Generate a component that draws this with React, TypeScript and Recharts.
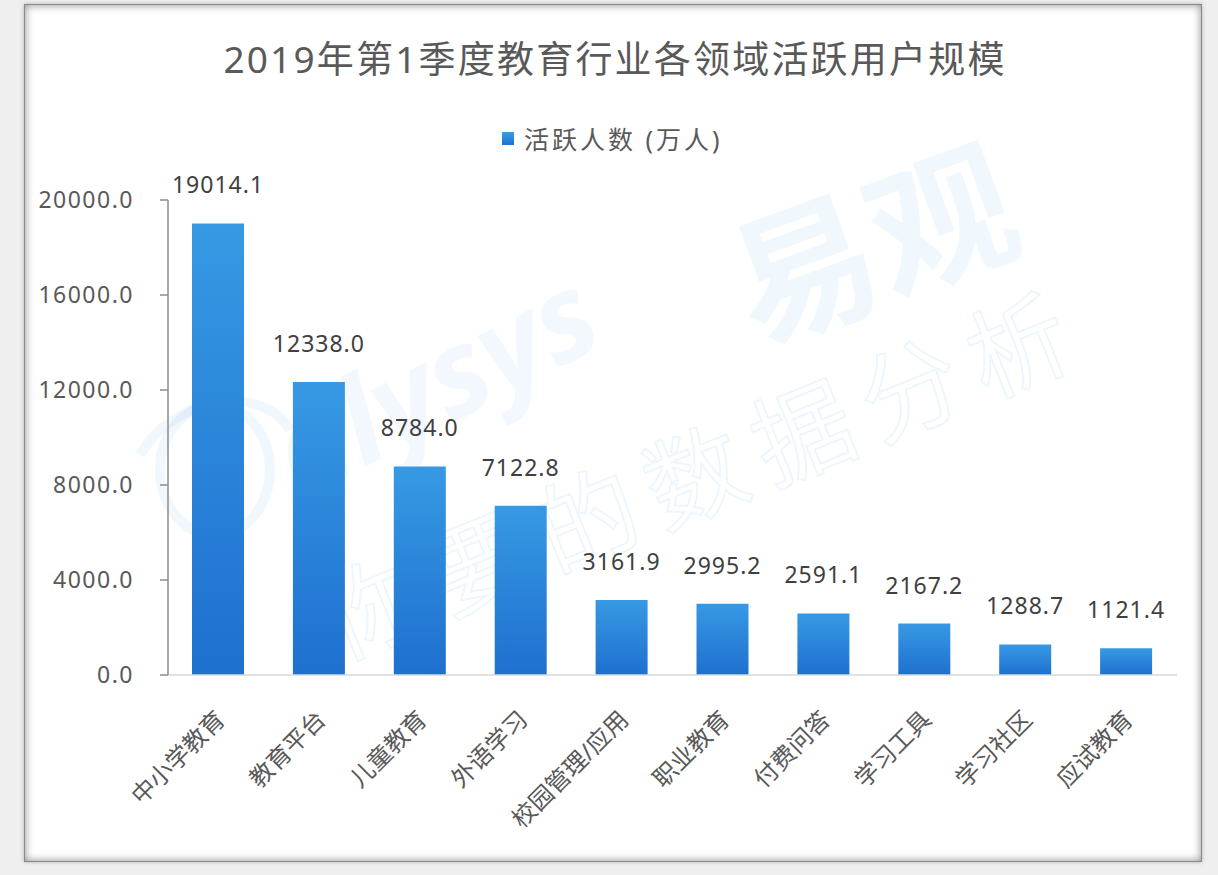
import React from 'react';
import { BarChart, Bar, XAxis, YAxis, LabelList } from 'recharts';

const categories = ['中小学教育', '教育平台', '儿童教育', '外语学习', '校园管理/应用', '职业教育', '付费问答', '学习工具', '学习社区', '应试教育'];
const activeUsers = [19014.1, 12338.0, 8784.0, 7122.8, 3161.9, 2995.2, 2591.1, 2167.2, 1288.7, 1121.4];
const yTicks = [0, 4000, 8000, 12000, 16000, 20000];
const titleText = '2019年第1季度教育行业各领域活跃用户规模';
const seriesName = '活跃人数 (万人)';

const data = categories.map((name, i) => ({ name, value: activeUsers[i] }));

const FONT = "'Noto Sans', 'Noto Sans CJK SC', sans-serif";

const XTick = (props: any) => {
  const { x, y, payload } = props;
  const px = x + 8;
  const py = y + 46;
  return (
    <text x={px} y={py} transform={`rotate(-45 ${px} ${py})`} textAnchor="end" fontSize={24} fill="#595959" fontFamily={FONT}>
      {payload.value}
    </text>
  );
};

const renderLabel = (props: any) => {
  const { x, y, width, value } = props;
  return (
    <text x={x + width / 2} y={y - 30} textAnchor="middle" fontSize={23} letterSpacing={1} fill="#404040" fontFamily={FONT}>
      {Number(value).toFixed(1)}
    </text>
  );
};

export default function App() {
  return (
    <div style={{ position: 'absolute', left: 0, top: 0, width: 1218, height: 875, background: '#efefef', overflow: 'hidden', fontFamily: FONT }}>
      <div
        style={{
          position: 'absolute',
          left: 24,
          top: 4,
          width: 1178,
          height: 858,
          background: '#ffffff',
          border: '1px solid #8a8a8a',
          boxSizing: 'border-box',
          boxShadow: 'inset 0 0 9px rgba(0,0,0,0.45), 0 0 4px rgba(0,0,0,0.25)',
        }}
      />
      <svg width={1218} height={875} style={{ position: 'absolute', left: 0, top: 0 }}>
        <g fill="none" stroke="rgba(60,150,230,0.08)" strokeWidth={10}>
          <path d="M140 455 C 170 400, 260 380, 290 430" />
          <ellipse cx={215} cy={470} rx={55} ry={65} />
        </g>
        <text x={300} y={500} transform="rotate(-27 300 500)" fontSize={120} fontStyle="italic" fontWeight={700} fill="rgba(60,150,230,0.065)" fontFamily={FONT}>alysys</text>
        <text x={755} y={345} transform="rotate(-20 755 345)" fontSize={145} fontWeight={700} fill="rgba(60,150,230,0.075)" fontFamily={FONT}>易观</text>
        <text x={340} y={660} transform="rotate(-22 340 660)" fontSize={100} fill="none" stroke="rgba(60,150,230,0.09)" strokeWidth={2} fontFamily={FONT} letterSpacing={16}>你要的数据分析</text>
      </svg>
      <div style={{ position: 'absolute', left: 0, top: 35, width: 1230, textAlign: 'center', fontSize: 37, letterSpacing: 2.2, color: '#595959', lineHeight: '48px', whiteSpace: 'nowrap' }}>
        {titleText}
      </div>
      <div style={{ position: 'absolute', left: 502, top: 132, width: 12, height: 13, background: 'linear-gradient(#3a9ae5, #1f72d0)' }} />
      <div style={{ position: 'absolute', left: 524, top: 122, fontSize: 25, letterSpacing: 3, color: '#595959', lineHeight: '34px', whiteSpace: 'nowrap' }}>
        {seriesName}
      </div>
      <div style={{ position: 'absolute', left: 0, top: 0 }}>
        <BarChart width={1218} height={875} data={data} margin={{ top: 200, right: 41, bottom: 80, left: 0 }}>
          <defs>
            <linearGradient id="barGrad" x1="0" y1="0" x2="0" y2="1">
              <stop offset="0%" stopColor="#3799e4" />
              <stop offset="100%" stopColor="#1e70cf" />
            </linearGradient>
          </defs>
          <XAxis
            dataKey="name"
            height={120}
            interval={0}
            tickLine={false}
            tickSize={0}
            tickMargin={0}
            axisLine={{ stroke: '#d9d9d9', strokeWidth: 1.5 }}
            tick={<XTick />}
          />
          <YAxis
            width={168}
            domain={[0, 20000]}
            ticks={yTicks}
            tickFormatter={(v: number) => v.toFixed(1)}
            axisLine={{ stroke: '#8c8c8c', strokeWidth: 1.5 }}
            tickLine={{ stroke: '#8c8c8c', strokeWidth: 1.5 }}
            tickSize={8}
            tickMargin={26}
            tick={{ fontSize: 23, fill: '#595959', fontFamily: FONT, letterSpacing: 1.5 }}
          />
          <Bar dataKey="value" name={seriesName} fill="url(#barGrad)" barSize={52} isAnimationActive={false}>
            <LabelList dataKey="value" content={renderLabel} />
          </Bar>
        </BarChart>
      </div>
    </div>
  );
}
